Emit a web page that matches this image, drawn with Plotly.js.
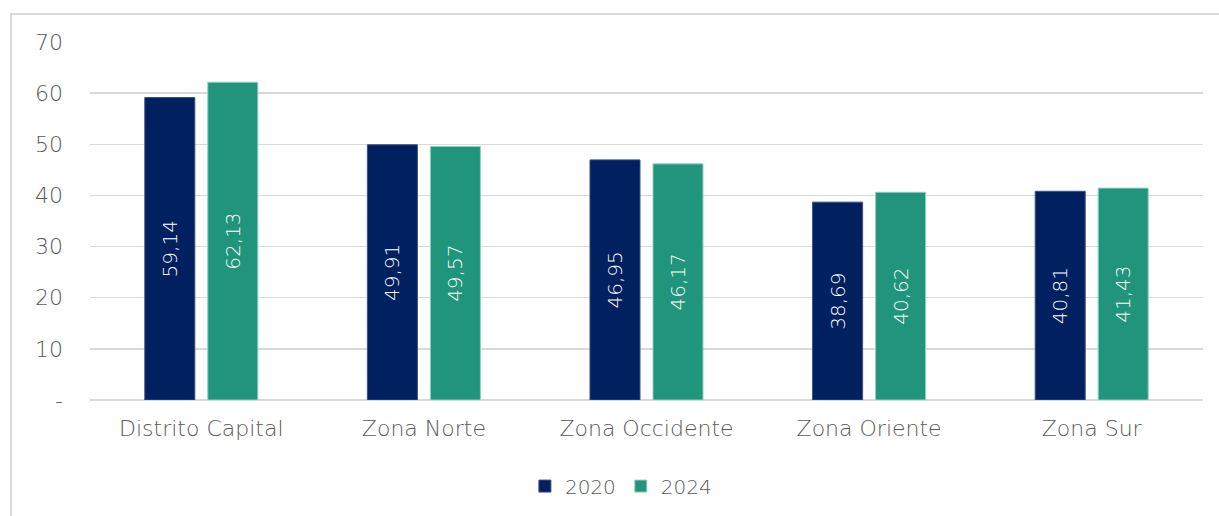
<!DOCTYPE html>
<html>
<head>
<meta charset="utf-8">
<script src="https://cdn.plot.ly/plotly-3.0.1.min.js"></script>
<style>
html,body{margin:0;padding:0;background:#fff;overflow:hidden;}
#frame{position:absolute;left:10px;top:13px;width:1300px;height:600px;border:2px solid #d9d9d9;box-sizing:border-box;}
#chart{position:absolute;left:0;top:0;width:1219px;height:516px;}
</style>
</head>
<body>
<div id="frame"></div>
<div id="chart"></div>
<script>
const categories = ["Distrito Capital", "Zona Norte", "Zona Occidente", "Zona Oriente", "Zona Sur"];
const values2020 = [59.14, 49.91, 46.95, 38.69, 40.81];
const values2024 = [62.13, 49.57, 46.17, 40.62, 41.43];
const yTickVals = [0, 10, 20, 30, 40, 50, 60, 70];
const yTickText = ["-", "10", "20", "30", "40", "50", "60", "70"];

const fontFam = "'DejaVu Sans', sans-serif";
const traces = [
  {type:'bar', name:'2020', x:categories, y:values2020,
   marker:{color:'#002060', line:{color:'#3a4f85', width:1}},
   texttemplate:'%{y:.2f}', textposition:'inside', insidetextanchor:'middle', textangle:-90,
   textfont:{color:'#ffffff', size:20, family:fontFam, weight:300}, hoverinfo:'x+y'},
  {type:'bar', name:'2024', x:categories, y:values2024,
   marker:{color:'#20957b', line:{color:'#8fd0c0', width:1}},
   texttemplate:'%{y:.2f}', textposition:'inside', insidetextanchor:'middle', textangle:-90,
   textfont:{color:'#ffffff', size:20, family:fontFam, weight:300}, hoverinfo:'x+y'}
];
const layout = {
  width:1219, height:516,
  margin:{l:90, r:16, t:42, b:115},
  paper_bgcolor:'rgba(0,0,0,0)', plot_bgcolor:'rgba(0,0,0,0)',
  separators:',.',
  barmode:'group', bargap:0.434, bargroupgap:0.206,
  font:{family:fontFam, color:'#595959', weight:300},
  xaxis:{showgrid:false, zeroline:false, showline:false, ticks:'',
         tickfont:{size:22, color:'#595959', family:fontFam, weight:300}, ticklabelstandoff:13},
  yaxis:{range:[0,70], tickvals:yTickVals, ticktext:yTickText, showgrid:true,
         gridcolor:'#d9d9d9', gridwidth:1.5, zeroline:true, zerolinecolor:'#d9d9d9', zerolinewidth:1.5,
         showline:false, ticks:'', tickfont:{size:22, color:'#595959', family:fontFam, weight:300}, ticklabelstandoff:26},
  showlegend:true,
  legend:{orientation:'h', x:0.477, xanchor:'center', y:-0.237, yanchor:'middle',
          font:{size:20, color:'#595959', family:fontFam, weight:300}, itemwidth:30, traceorder:'normal'}
};
Plotly.newPlot('chart', traces, layout, {displayModeBar:false, staticPlot:true});
</script>
</body>
</html>
